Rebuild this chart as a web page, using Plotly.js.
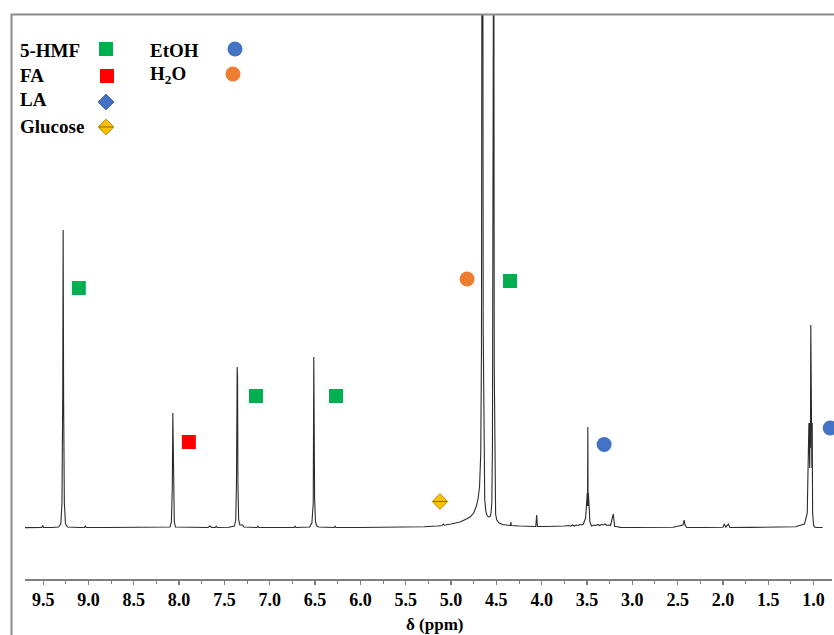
<!DOCTYPE html>
<html><head><meta charset="utf-8">
<script src="https://cdn.plot.ly/plotly-3.0.1.min.js"></script>
<style>html,body{margin:0;padding:0;background:#fff;}#chart{width:834px;height:635px;}</style>
</head><body><div id="chart"></div>
<script>
// ---- spectrum (chemical shift in ppm, intensity in arbitrary units) ----
const specPpm = [9.70,9.60,9.515,9.505,9.495,9.40,9.33,9.305,9.292,9.284,9.279,9.274,9.266,9.253,9.23,9.10,9.045,9.035,9.025,8.80,8.50,8.20,8.10,8.085,8.075,8.069,8.063,8.053,8.04,7.85,7.68,7.66,7.64,7.60,7.59,7.58,7.45,7.39,7.375,7.367,7.363,7.359,7.355,7.351,7.343,7.33,7.30,7.285,7.14,7.13,7.12,6.73,6.72,6.71,6.56,6.535,6.52,6.514,6.511,6.508,6.505,6.495,6.48,6.46,6.29,6.28,6.27,6.00,5.70,5.50,5.30,5.15,5.10,5.085,5.075,5.00,4.90,4.83,4.79,4.75,4.72,4.70,4.685,4.672,4.664,4.658,4.650,4.645,4.638,4.628,4.615,4.60,4.585,4.57,4.56,4.55,4.543,4.537,4.529,4.523,4.517,4.508,4.495,4.47,4.43,4.36,4.345,4.340,4.335,4.25,4.15,4.065,4.055,4.047,3.95,3.85,3.75,3.70,3.68,3.66,3.64,3.62,3.60,3.58,3.56,3.54,3.53,3.515,3.508,3.504,3.500,3.497,3.494,3.491,3.488,3.485,3.482,3.478,3.474,3.468,3.458,3.45,3.42,3.40,3.38,3.36,3.34,3.32,3.30,3.28,3.26,3.24,3.21,3.201,3.195,3.18,3.15,3.13,3.00,2.80,2.55,2.44,2.428,2.418,2.408,2.40,2.20,2.00,1.985,1.976,1.968,1.940,1.932,1.924,1.70,1.40,1.20,1.10,1.07,1.052,1.043,1.039,1.035,1.031,1.027,1.023,1.019,1.015,1.011,1.000,0.99,0.97,0.90,0.80];
const specInt = [0.4,0.5,0.5,2.5,0.5,0.5,1,4,25,130,298,130,25,4,1,0.5,0.5,2,0.5,0.5,0.5,0.6,1,6,40,115,40,6,1,0.5,0.5,2,0.5,0.5,1.8,0.5,0.8,2,8,45,150,161,150,45,8,3,3,1,0.5,1.8,0.5,0.5,1.8,0.5,1,5,25,171,45,65,30,6,2,1,0.5,1.8,0.5,0.5,0.6,0.8,1.2,2,2.5,4,2.8,4,6,9,11,15,22,30,42,75,180,700,700,200,70,28,16,12,11,11.5,14,25,80,700,700,160,35,14,8,5,3.5,2.5,2.5,6,2.5,2,1.8,1.5,13,1.5,1.5,1.5,2,2.5,1.8,3,2,3,2.5,3.5,3,4,6,10,20,33,20,35,22,101,22,35,20,33,18,6,2,2,3,2.5,3.5,2.5,3.5,3,4,2.5,3,2.5,14,2,1.5,1.5,1,0.6,0.5,0.5,0.8,3,8,3,0.8,0.5,0.5,0.8,4,0.8,0.8,4,0.8,0.5,0.6,0.8,1.2,4,15,105,60,105,80,203,80,105,60,105,15,3,1,0.6,0.5];

// ---- peak assignment markers ----
const hmfPpm = [9.106, 7.152, 6.269, 4.349];
const hmfInt = [240, 132, 132, 247];
const faPpm = [7.892];
const faInt = [86];
const etohPpm = [3.311, 0.817];
const etohInt = [83.5, 100];
const waterPpm = [4.823];
const waterInt = [249];
const glucosePpm = [5.122];
const glucoseInt = [26.5];

// ---- legend ----
const legendNames = ['5-HMF', 'FA', 'LA', 'Glucose', 'EtOH', 'H<sub>2</sub>O'];
const legendColors = ['#00B050', '#FF0000', '#4472C4', '#FFC000', '#4472C4', '#ED7D31'];
const legendSymbols = ['square', 'square', 'diamond', 'diamond', 'circle', 'circle'];

// ---- axis ticks ----
const tickVals = [9.5, 9.0, 8.5, 8.0, 7.5, 7.0, 6.5, 6.0, 5.5, 5.0, 4.5, 4.0, 3.5, 3.0, 2.5, 2.0, 1.5, 1.0];
const tickText = tickVals.map(v => v.toFixed(1));

// layout geometry (pixels)
const W = 834, H = 635, ML = 25, MR = 2, MT = 14, MB = 56;
const PW = W - ML - MR, PH = H - MT - MB;
const px2paperX = p => (p - ML) / PW;
const px2paperY = p => (H - MB - p) / PH;

const legendTextX = [18, 18, 18, 18, 148, 148];
const legendTextY = [50, 75, 100, 126, 50, 75];
const legendKeyX = [106, 107, 106, 106, 235, 233];
const legendKeyY = [49, 76, 102, 127, 49, 74];
const legendKeySize = [14, 14, 12, 12, 15, 15];

const serif = 'Liberation Serif';

const traces = [
  {x: specPpm, y: specInt, type: 'scatter', mode: 'lines',
   line: {color: '#2b2b2b', width: 1.1}, hoverinfo: 'skip'},
  {x: hmfPpm, y: hmfInt, mode: 'markers', cliponaxis: false,
   marker: {symbol: 'square', size: 14, color: '#00B050', opacity: 1}},
  {x: faPpm, y: faInt, mode: 'markers', cliponaxis: false,
   marker: {symbol: 'square', size: 14, color: '#FF0000', opacity: 1}},
  {x: waterPpm, y: waterInt, mode: 'markers', cliponaxis: false,
   marker: {symbol: 'circle', size: 15, color: '#ED7D31', opacity: 1}},
  {x: etohPpm, y: etohInt, mode: 'markers', cliponaxis: false,
   marker: {symbol: 'circle', size: 15, color: '#4472C4', opacity: 1}},
  {x: glucosePpm, y: glucoseInt, mode: 'markers', cliponaxis: false,
   marker: {symbol: 'diamond', size: 12, color: '#FFC000', opacity: 1, line: {color: '#B08A10', width: 1}}},
  {x: glucosePpm, y: glucoseInt, mode: 'markers', cliponaxis: false,
   marker: {symbol: 'line-ew', size: 10, opacity: 1, line: {color: '#8A6A00', width: 1}}},
  // legend keys on a pixel-unit overlay axis
  {x: legendKeyX, y: legendKeyY, xaxis: 'x2', yaxis: 'y2', mode: 'markers', cliponaxis: false,
   marker: {symbol: legendSymbols, size: legendKeySize, color: legendColors, opacity: 1,
            line: {color: ['rgba(0,0,0,0)', 'rgba(0,0,0,0)', '#2F5597', '#B08A10', 'rgba(0,0,0,0)', 'rgba(0,0,0,0)'], width: 1}}},
  {x: [legendKeyX[3]], y: [legendKeyY[3]], xaxis: 'x2', yaxis: 'y2', mode: 'markers', cliponaxis: false,
   marker: {symbol: 'line-ew', size: 10, opacity: 1, line: {color: '#8A6A00', width: 1}}}
];

const annotations = legendNames.map((t, i) => ({
  xref: 'paper', yref: 'paper', x: px2paperX(legendTextX[i]), y: px2paperY(legendTextY[i]),
  xanchor: 'left', yanchor: 'middle', showarrow: false, text: '<b>' + t + '</b>',
  font: {family: serif, size: 19, color: '#000'}
}));
annotations.push({
  xref: 'paper', yref: 'paper', x: px2paperX(434), y: px2paperY(624),
  xanchor: 'center', yanchor: 'middle', showarrow: false, text: '<b>δ (ppm)</b>',
  font: {family: serif, size: 17, color: '#000'}
});

const layout = {
  width: W, height: H,
  margin: {l: ML, r: MR, t: MT, b: MB},
  paper_bgcolor: '#ffffff', plot_bgcolor: '#ffffff',
  showlegend: false,
  xaxis: {
    range: [9.70, 0.797], showgrid: false, zeroline: false,
    showline: true, linecolor: '#7F7F7F', linewidth: 1.5,
    ticks: 'outside', ticklen: 4, tickwidth: 1.2, tickcolor: '#7F7F7F',
    tickvals: tickVals, ticktext: tickText.map(t => '<b>' + t + '</b>'),
    tickfont: {family: serif, size: 18, color: '#000'},
    minor: {dtick: 0.25, tick0: 1.0, ticks: 'outside', ticklen: 3, tickcolor: '#7F7F7F', tickwidth: 1, showgrid: false}
  },
  yaxis: {range: [-51, 514], visible: false, showgrid: false, zeroline: false},
  xaxis2: {overlaying: 'x', range: [ML, W - MR], visible: false},
  yaxis2: {overlaying: 'y', range: [H - MB, MT], visible: false},
  annotations: annotations,
  shapes: [{
    type: 'rect', xref: 'paper', yref: 'paper', layer: 'above',
    x0: px2paperX(11.5), x1: px2paperX(845), y0: px2paperY(650), y1: px2paperY(14.5),
    line: {color: '#8C8C8C', width: 2}, fillcolor: 'rgba(0,0,0,0)'
  }]
};

Plotly.newPlot('chart', traces, layout, {displayModeBar: false, staticPlot: true});
</script>
</body></html>
